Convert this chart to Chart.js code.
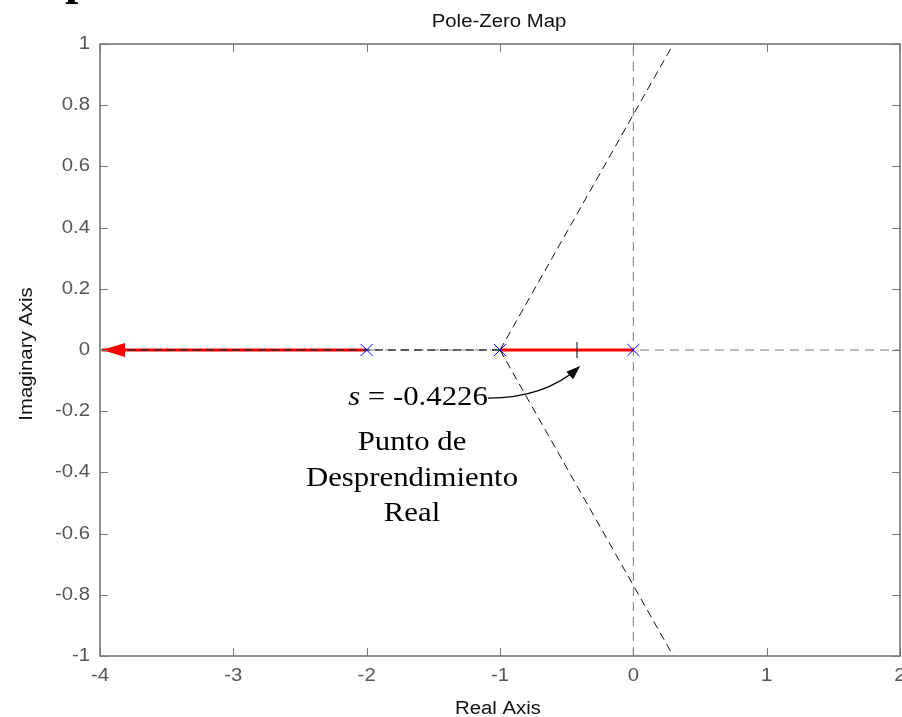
<!DOCTYPE html>
<html>
<head>
<meta charset="utf-8">
<script src="https://cdn.jsdelivr.net/npm/chart.js@4.4.1/dist/chart.umd.min.js"></script>
<style>
  html, body { margin: 0; padding: 0; background: #fff; overflow: hidden; }
</style>
</head>
<body>
<canvas id="chart" width="902" height="717"></canvas>
<script>
// ===== DATA =====
const poles = [-2, -1, 0];
const breakaway = -0.4226;
const locusLeft = [-3.985, -2];      // real-axis branch heading to -inf
const locusRight = [-1, 0];          // real-axis branch between the poles
const darkDashed = [-3.985, -1];
const asymUp = [{ x: -1, y: 0 }, { x: 0.3, y: 1 }];
const asymDown = [{ x: -1, y: 0 }, { x: 0.3, y: -1 }];
const xRange = [-4, 2];
const yRange = [-1, 1];
const xTicks = [-4, -3, -2, -1, 0, 1, 2];
const xTickLabels = ["-4", "-3", "-2", "-1", "0", "1", "2"];
const yTicks = [1, 0.8, 0.6, 0.4, 0.2, 0, -0.2, -0.4, -0.6, -0.8, -1];
const yTickLabels = ["1", "0.8", "0.6", "0.4", "0.2", "0", "-0.2", "-0.4", "-0.6", "-0.8", "-1"];

// annotation placement (data units)
const noteFrom = { x: -1.09, y: -0.157 };
const noteCtrl = { x: -0.665, y: -0.157 };
const noteTo = { x: -0.41, y: -0.057 };

const SANS = '"Liberation Sans", Arial, sans-serif';
const SERIF = '"Liberation Serif", "Times New Roman", serif';

// red arrowhead as an image point style
const arrowImg = document.createElement("canvas");
arrowImg.width = 48; arrowImg.height = 16;
(() => {
    const c = arrowImg.getContext("2d");
    c.fillStyle = "#ff0000";
    c.beginPath();
    c.moveTo(24, 8); c.lineTo(47, 1); c.lineTo(47, 15);
    c.closePath(); c.fill();
})();

function line(points, color, width, dash, order) {
    return {
        data: points, showLine: true, pointRadius: 0,
        borderColor: color, borderWidth: width, borderDash: dash || [],
        order: order
    };
}

function stretchText(ctx, txt, x, y, sx, align) {
    ctx.save();
    ctx.translate(x, y);
    ctx.scale(sx, 1);
    ctx.textAlign = align;
    ctx.fillText(txt, 0, 0);
    ctx.restore();
}

// ===== OVERLAY: box, ticks, labels, note =====
const overlay = {
    id: "overlay",
    afterDraw(chart) {
        const ctx = chart.ctx;
        const a = chart.chartArea;
        const sx = chart.scales.x, sy = chart.scales.y;

        // box
        ctx.save();
        ctx.strokeStyle = "#6e6e6e";
        ctx.lineWidth = 1.5;
        ctx.strokeRect(a.left, a.top, a.right - a.left, a.bottom - a.top);

        // inward ticks on all sides
        ctx.lineWidth = 1;
        ctx.strokeStyle = "#777";
        ctx.beginPath();
        xTicks.forEach(v => {
            const px = Math.round(sx.getPixelForValue(v)) + 0.5;
            ctx.moveTo(px, a.bottom); ctx.lineTo(px, a.bottom - 8);
            ctx.moveTo(px, a.top); ctx.lineTo(px, a.top + 8);
        });
        yTicks.forEach(v => {
            const py = Math.round(sy.getPixelForValue(v)) + 0.5;
            ctx.moveTo(a.left, py); ctx.lineTo(a.left + 8, py);
            ctx.moveTo(a.right, py); ctx.lineTo(a.right - 8, py);
        });
        ctx.stroke();

        // tick labels
        ctx.fillStyle = "#555";
        ctx.font = "18px " + SANS;
        ctx.textBaseline = "alphabetic";
        xTicks.forEach((v, i) => stretchText(ctx, xTickLabels[i], sx.getPixelForValue(v), 681, 1.13, "center"));
        ctx.textBaseline = "middle";
        yTicks.forEach((v, i) => stretchText(ctx, yTickLabels[i], 90, sy.getPixelForValue(v), 1.13, "right"));

        // title and axis names
        ctx.fillStyle = "#111";
        ctx.textBaseline = "alphabetic";
        stretchText(ctx, "Pole-Zero Map", 499, 27, 1.13, "center");
        stretchText(ctx, "Real Axis", 498, 714, 1.13, "center");
        ctx.save();
        ctx.translate(32, 354);
        ctx.rotate(-Math.PI / 2);
        stretchText(ctx, "Imaginary Axis", 0, 0, 1.13, "center");
        ctx.restore();

        // annotation curve with arrowhead
        const p0 = [sx.getPixelForValue(noteFrom.x), sy.getPixelForValue(noteFrom.y)];
        const pc = [sx.getPixelForValue(noteCtrl.x), sy.getPixelForValue(noteCtrl.y)];
        const p1 = [sx.getPixelForValue(noteTo.x), sy.getPixelForValue(noteTo.y)];
        ctx.strokeStyle = "#000";
        ctx.lineWidth = 1.3;
        ctx.beginPath();
        ctx.moveTo(p0[0], p0[1]);
        ctx.quadraticCurveTo(pc[0], pc[1], p1[0], p1[1]);
        ctx.stroke();
        const ang = Math.atan2(p1[1] - pc[1], p1[0] - pc[0]);
        ctx.save();
        ctx.translate(p1[0], p1[1]);
        ctx.rotate(ang);
        ctx.fillStyle = "#000";
        ctx.beginPath();
        ctx.moveTo(2, 0); ctx.lineTo(-12, -5); ctx.lineTo(-12, 5);
        ctx.closePath(); ctx.fill();
        ctx.restore();

        // note text
        ctx.fillStyle = "#000";
        const cx = 418, by = 405, st = 1.1;
        ctx.font = "italic 28px " + SERIF;
        const w1 = ctx.measureText("s").width;
        ctx.font = "28px " + SERIF;
        const w2 = ctx.measureText(" = -0.4226").width;
        const x0 = cx - (w1 + w2) * st / 2;
        ctx.font = "italic 28px " + SERIF;
        stretchText(ctx, "s", x0, by, st, "left");
        ctx.font = "28px " + SERIF;
        stretchText(ctx, " = -0.4226", x0 + w1 * st, by, st, "left");
        stretchText(ctx, "Punto de", 412, 450, st, "center");
        stretchText(ctx, "Desprendimiento", 412, 486, st, "center");
        stretchText(ctx, "Real", 412, 521, st, "center");

        // clipped heading glyph at the very top
        ctx.font = "bold 48px " + SERIF;
        stretchText(ctx, "p", 65, -6, 1, "left");
        ctx.restore();
    }
};

// ===== CHART =====
const chart = new Chart(document.getElementById("chart"), {
    type: "scatter",
    data: {
        datasets: [
            {
                data: poles.map(p => ({ x: p, y: 0 })),
                pointStyle: "crossRot", pointRadius: 8.5,
                borderColor: "#0000ff", backgroundColor: "#0000ff",
                borderWidth: 1, order: 0
            },
            {
                data: [{ x: breakaway, y: 0 }],
                pointStyle: "line", rotation: 90, pointRadius: 8,
                borderColor: "#000", borderWidth: 1, order: 1
            },
            {
                data: [{ x: locusLeft[0], y: 0 }],
                pointStyle: arrowImg, order: 2
            },
            line(asymUp, "#111", 1, [8, 5], 3),
            line(asymDown, "#111", 1, [8, 5], 3),
            line(darkDashed.map(v => ({ x: v, y: 0 })), "rgba(40,40,40,0.9)", 1.5, [8, 5], 4),
            line(locusLeft.map(v => ({ x: v, y: 0 })), "#ff0000", 3, [], 5),
            line(locusRight.map(v => ({ x: v, y: 0 })), "#ff0000", 3, [], 5),
            line(xRange.map(v => ({ x: v, y: 0 })), "#7a7a7a", 1, [9, 6], 6),
            line(yRange.map(v => ({ x: 0, y: v })), "#7a7a7a", 1, [9, 6], 6)
        ]
    },
    options: {
        responsive: false,
        animation: false,
        devicePixelRatio: 1,
        layout: { autoPadding: false, padding: { top: 44, right: 2, left: 0, bottom: 0 } },
        plugins: {
            legend: { display: false },
            tooltip: { enabled: false },
            title: { display: false }
        },
        scales: {
            x: {
                type: "linear", min: xRange[0], max: xRange[1],
                grid: { display: false }, border: { display: false },
                ticks: { display: false },
                afterFit: s => { s.height = 61; }
            },
            y: {
                type: "linear", min: yRange[0], max: yRange[1],
                grid: { display: false }, border: { display: false },
                ticks: { display: false },
                afterFit: s => { s.width = 100; }
            }
        }
    },
    plugins: [overlay]
});
</script>
</body>
</html>
